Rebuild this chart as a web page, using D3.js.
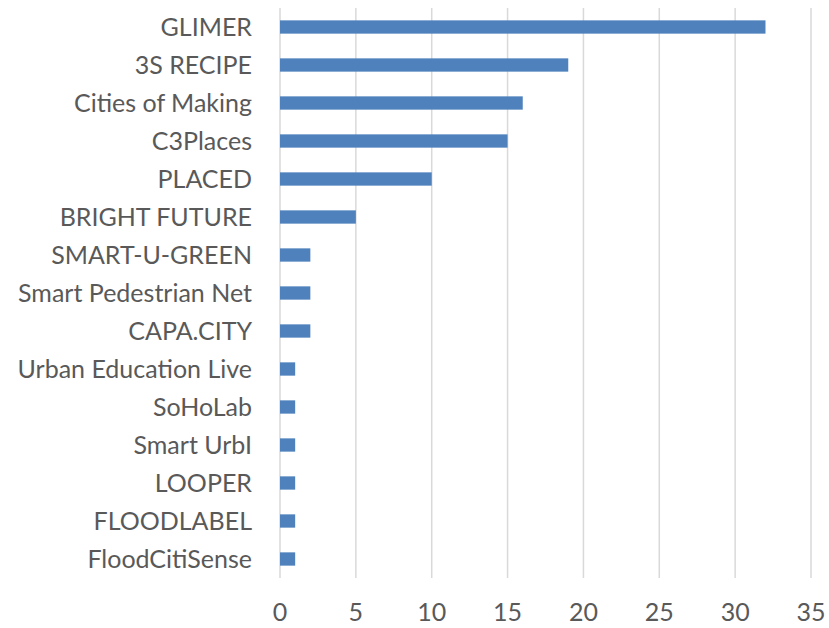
<!DOCTYPE html>
<html>
<head>
<meta charset="utf-8">
<script src="https://cdn.jsdelivr.net/npm/d3@7"></script>
<style>
  body { margin: 0; background: #fff; }
  text { font-family: Lato, "Open Sans", sans-serif; fill: #595959; }
</style>
</head>
<body>
<div id="chart"></div>
<script>
var projects = ["GLIMER", "3S RECIPE", "Cities of Making", "C3Places", "PLACED", "BRIGHT FUTURE",
  "SMART-U-GREEN", "Smart Pedestrian Net", "CAPA.CITY", "Urban Education Live", "SoHoLab",
  "Smart UrbI", "LOOPER", "FLOODLABEL", "FloodCitiSense"];
var counts = [32, 19, 16, 15, 10, 5, 2, 2, 2, 1, 1, 1, 1, 1, 1];
var xTicks = [0, 5, 10, 15, 20, 25, 30, 35];

var svgWidth = 829, svgHeight = 628;
var margin = { top: 8, right: 18, bottom: 50, left: 280 };
var width = svgWidth - margin.left - margin.right;
var height = svgHeight - margin.top - margin.bottom;

var svg = d3.select("#chart").append("svg")
  .attr("width", svgWidth)
  .attr("height", svgHeight);

var chartGroup = svg.append("g")
  .attr("transform", `translate(${margin.left}, ${margin.top})`);

var x = d3.scaleLinear().domain([0, 35]).range([0, width]);
var y = d3.scaleBand().domain(projects).range([0, height]).paddingInner(0.65).paddingOuter(0.325);

// gridlines
chartGroup.selectAll(".grid")
  .data(xTicks)
  .enter()
  .append("line")
  .attr("x1", d => x(d))
  .attr("x2", d => x(d))
  .attr("y1", 0)
  .attr("y2", height)
  .attr("stroke", "#d9d9d9")
  .attr("stroke-width", 1.5);

chartGroup.selectAll("rect")
  .data(projects)
  .enter()
  .append("rect")
  .attr("x", x(0))
  .attr("y", d => y(d))
  .attr("width", (d, i) => x(counts[i]) - x(0))
  .attr("height", y.bandwidth())
  .attr("fill", "#4f81bd");

// category labels
chartGroup.selectAll(".cat")
  .data(projects)
  .enter()
  .append("text")
  .attr("x", -28)
  .attr("y", d => y(d) + y.bandwidth() / 2)
  .attr("dy", "0.35em")
  .attr("text-anchor", "end")
  .style("font-size", "25px")
  .text(d => d);

// x tick labels
chartGroup.selectAll(".tick")
  .data(xTicks)
  .enter()
  .append("text")
  .attr("x", d => x(d))
  .attr("y", height + 43)
  .attr("text-anchor", "middle")
  .style("font-size", "25px")
  .text(d => d);
</script>
</body>
</html>
